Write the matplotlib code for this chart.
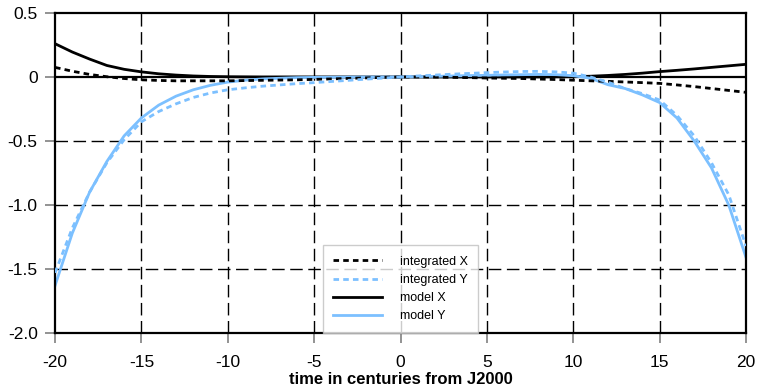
import numpy as np
import matplotlib
matplotlib.use('Agg')
import matplotlib.pyplot as plt

plt.rcParams['font.family'] = ['Liberation Sans', 'DejaVu Sans']

t = np.arange(-20, 21)

integrated_x = [0.075, 0.045, 0.02, 0.002, -0.012, -0.022, -0.027, -0.03, -0.03, -0.03,
                -0.03, -0.028, -0.026, -0.024, -0.022, -0.019, -0.015, -0.011, -0.007, -0.003,
                0.0, 0.0, -0.001, -0.003, -0.005, -0.008, -0.01, -0.012, -0.016, -0.02,
                -0.025, -0.03, -0.034, -0.039, -0.044, -0.05, -0.062, -0.075, -0.09, -0.105, -0.12]
integrated_y = [-1.53, -1.18, -0.90, -0.67, -0.49, -0.35, -0.27, -0.21, -0.16, -0.125,
                -0.10, -0.085, -0.072, -0.062, -0.052, -0.044, -0.035, -0.026, -0.017, -0.008,
                0.0, 0.008, 0.015, 0.022, 0.028, 0.034, 0.039, 0.043, 0.044, 0.04,
                0.03, 0.0, -0.04, -0.09, -0.13, -0.18, -0.30, -0.46, -0.67, -0.92, -1.32]
model_x = [0.26, 0.195, 0.14, 0.09, 0.06, 0.04, 0.025, 0.015, 0.008, 0.004,
           0.002, 0.001, 0.0, 0.0, 0.0, 0.0, 0.0, 0.0, 0.0, 0.0,
           0.0, 0.0, 0.0, 0.0, 0.0, 0.0, 0.0, 0.0, 0.0, 0.001,
           0.002, 0.006, 0.012, 0.02, 0.03, 0.042, 0.052, 0.063, 0.075, 0.087, 0.099]
model_y = [-1.63, -1.22, -0.90, -0.66, -0.46, -0.32, -0.22, -0.15, -0.10, -0.065,
           -0.04, -0.025, -0.015, -0.01, -0.005, -0.003, -0.002, -0.001, 0.0, 0.0,
           0.0, 0.002, 0.005, 0.008, 0.011, 0.013, 0.016, 0.018, 0.02, 0.018,
           0.01, -0.01, -0.06, -0.09, -0.14, -0.20, -0.32, -0.50, -0.71, -1.00, -1.41]

xticks = [-20, -15, -10, -5, 0, 5, 10, 15, 20]
yticks = [0.5, 0, -0.5, -1.0, -1.5, -2.0]
ytick_labels = ['0.5', '0', '-0.5', '-1.0', '-1.5', '-2.0']

blue = '#7cc0ff'

fig = plt.figure(figsize=(7.57, 3.91), dpi=100)
ax = fig.add_axes([0.0727, 0.1483, 0.9128, 0.8185])

# grid + zero line
for xv in xticks[1:-1]:
    ax.axvline(xv, color='black', lw=1.0, ls=(0, (9, 4)), zorder=1)
for yv in yticks[2:-1]:
    ax.axhline(yv, color='black', lw=1.0, ls=(0, (9, 4)), zorder=1)
ax.axhline(0, color='black', lw=1.6, zorder=1)

ax.plot(t, integrated_x, color='black', lw=2, ls=(0, (2, 1.5)), label='integrated X', zorder=3)
ax.plot(t, integrated_y, color=blue, lw=2, ls=(0, (2, 1.5)), label='integrated Y', zorder=3)
ax.plot(t, model_x, color='black', lw=2, label='model X', zorder=2)
ax.plot(t, model_y, color=blue, lw=2, label='model Y', zorder=2)

ax.set_xlim(-20, 20)
ax.set_ylim(-2.0, 0.5)
ax.set_xticks(xticks)
ax.set_xticklabels([str(v) for v in xticks])
ax.set_yticks(yticks)
ax.set_yticklabels(ytick_labels)
ax.tick_params(axis='both', direction='out', length=7.5, width=1.2, color='#808080',
               labelsize=12.5)
ax.tick_params(axis='y', pad=5)
ax.tick_params(axis='x', pad=8)
for s in ax.spines.values():
    s.set_linewidth(1.6)
    s.set_color('black')

ax.set_xlabel('time in centuries from J2000', fontsize=12, fontweight='bold', labelpad=2)

leg = ax.legend(loc='lower center', bbox_to_anchor=(0.5, 0.0), borderaxespad=0,
                fontsize=9, frameon=True, fancybox=False, handlelength=3.9,
                borderpad=0.85, labelspacing=0.5, handletextpad=1.4)
leg.get_frame().set_edgecolor('#c0c0c0')
leg.get_frame().set_linewidth(1.0)

fig.savefig('out.png', dpi=100)
